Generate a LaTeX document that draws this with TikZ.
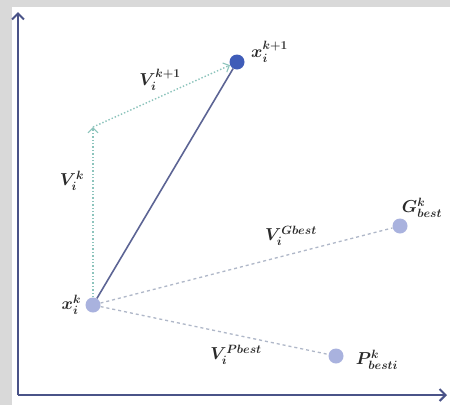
\documentclass[tikz,border=0pt]{standalone}
\usepackage{amsmath,amssymb}
\usepackage{xcolor}
\usepackage{tikz}
\usetikzlibrary{arrows.meta}
\definecolor{axisblue}{HTML}{4A5388}
\definecolor{pointlight}{HTML}{A9B2DE}
\definecolor{pointdark}{HTML}{3F5CB8}
\definecolor{velgreen}{HTML}{8CC4BC}
\definecolor{velgray}{HTML}{8C98B0}
\definecolor{labelgray}{HTML}{2A2A2A}

\begin{document}
\begin{tikzpicture}[x=1pt,y=-1pt,every node/.style={font=\fontsize{17}{19}\selectfont\boldmath,text=labelgray,inner sep=1pt},pt/.style={circle,fill=pointlight,minimum size=15pt,inner sep=0pt},axis/.style={draw=axisblue,line width=2.4pt,-{Straight Barb[length=6pt,width=12pt,line width=2pt]}},vel/.style={draw=velgreen,line width=1.4pt,dotted,-{Straight Barb[length=5pt,width=10pt,line width=1.1pt]}},pull/.style={draw=velgray!70,line width=1.3pt,dashed}]
\useasboundingbox (0,0) rectangle (450,405);
\fill[black!15] (0,0) rectangle (450,405);
\fill[white] (12,7) rectangle (450,405);
\coordinate (o) at (18,395);
\coordinate (ytop) at (18,12);
\coordinate (xend) at (447,395);
\draw[axis] (o) -- (ytop);
\draw[axis] (o) -- (xend);
\node[pt] (xk) at (93,305) {};
\node[pt,fill=pointdark] (xk1) at (237,62) {};
\node[pt] (gbest) at (400,226) {};
\node[pt] (pbest) at (336,356) {};
\coordinate (vk) at (93,127);
\draw[pull] (xk) -- (gbest);
\draw[pull] (xk) -- (pbest);
\draw[vel] (xk) -- (vk);
\draw[vel] (vk) -- (xk1);
\draw[draw=axisblue!90,line width=1.6pt] (xk) -- (xk1);
\node[left=3pt] at (xk.west) {$x_i^k$};
\node[anchor=west] at (250,52) {$x_i^{k+1}$};
\node at (72,181) {$V_i^k$};
\node at (160,80) {$V_i^{k+1}$};
\node at (291,236) {$V_i^{Gbest}$};
\node at (422,208) {$G_{best}^k$};
\node at (236,355) {$V_i^{Pbest}$};
\node at (377,360) {$P_{besti}^k$};
\end{tikzpicture}
\end{document}
